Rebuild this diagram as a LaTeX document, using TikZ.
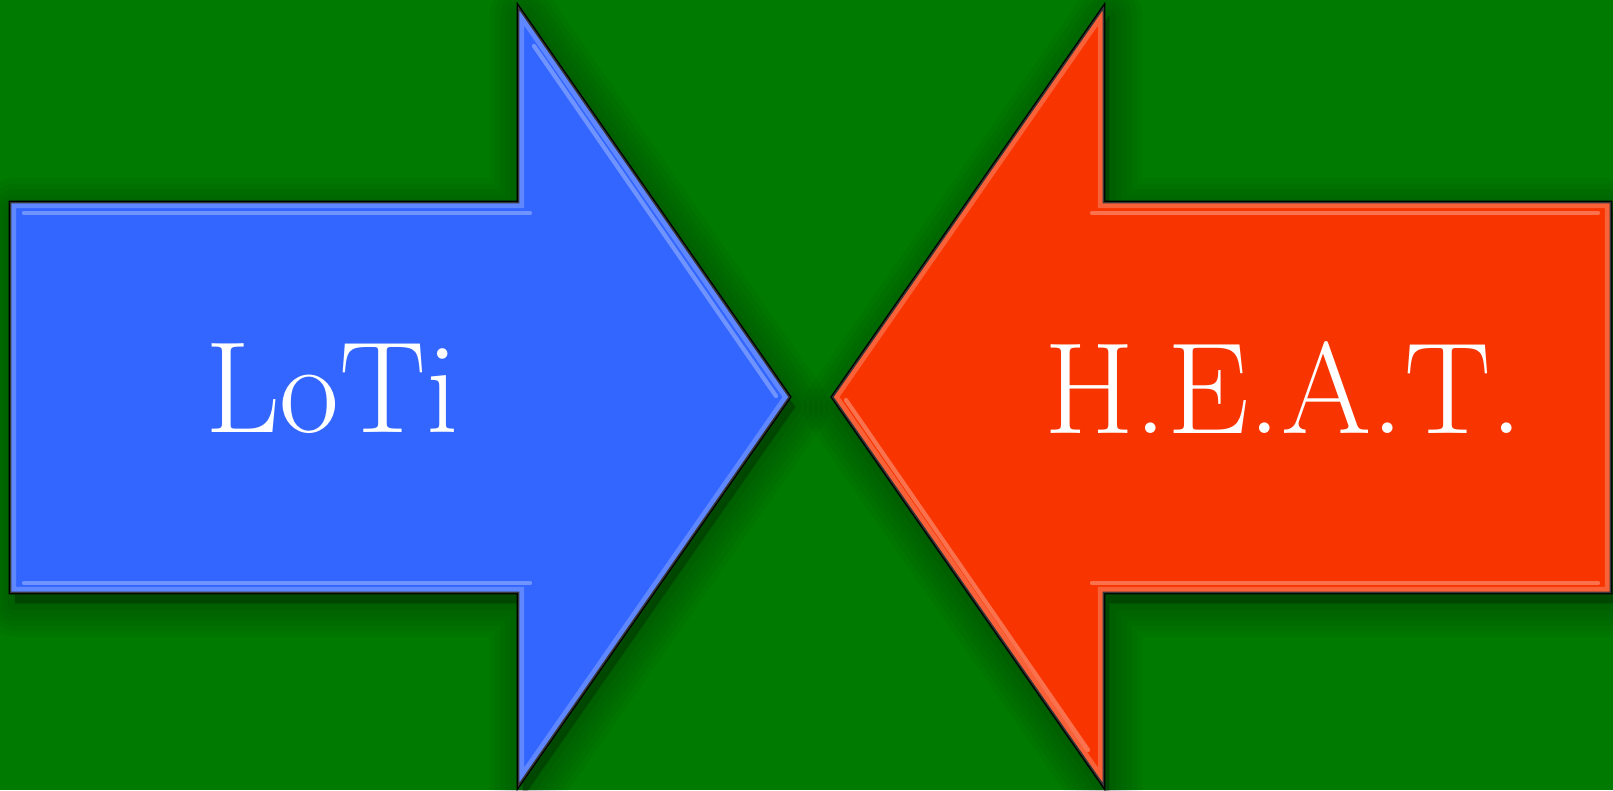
\documentclass[tikz,border=0pt]{standalone}
\usepackage{tikz}
\usetikzlibrary{positioning}
\definecolor{bggreen}{RGB}{0,122,0}
\definecolor{lotiblue}{RGB}{51,102,255}
\definecolor{heatred}{RGB}{248,53,0}
% outlines of the two arrows, in pixel units
\newcommand{\lotipath}{(10,202) -- (518,202) -- (518,6) -- (790,397) -- (518,787) -- (518,593) -- (10,593) -- cycle}
\newcommand{\heatpath}{(832,397) -- (1104,6) -- (1104,202) -- (1611,202) -- (1611,593) -- (1104,593) -- (1104,787) -- cycle}
\tikzset{
	shade layer/.style={fill=black,draw=black,opacity=0.035,line width=#1,line join=round},
	arrow body/.style={fill=#1,draw=black,line width=0.8pt,line join=miter},
	bevel/.style={draw=white,opacity=0.22,line width=3.5pt,line join=miter},
	gloss/.style={draw=white,opacity=0.3,line width=1.2pt,line cap=round},
	arrow label/.style={text=white,font=\fontsize{37}{40}\selectfont,anchor=base}
}
\begin{document}
\begin{tikzpicture}[x=0.1mm,y=-0.1mm]
		\useasboundingbox (0,0) rectangle (1613,790);
		\fill[bggreen] (0,0) rectangle (1613,790);
		% soft shadows
		\foreach \w in {1,4,...,19}{
			\filldraw[shade layer=\w pt,shift={(5,10)}] \lotipath;
			\filldraw[shade layer=\w pt,shift={(5,10)}] \heatpath;
		}
		% arrows
		\filldraw[arrow body=lotiblue] \lotipath;
		\filldraw[arrow body=heatred] \heatpath;
		\begin{scope}
			\clip \lotipath;
			\draw[bevel] \lotipath;
		\end{scope}
		\begin{scope}
			\clip \heatpath;
			\draw[bevel] \heatpath;
		\end{scope}
		\draw[gloss] (24,213) -- (530,213);
		\draw[gloss] (24,583) -- (530,583);
		\draw[gloss] (534,46) -- (776,396);
		\draw[gloss] (1092,213) -- (1598,213);
		\draw[gloss] (1092,583) -- (1598,583);
		\draw[gloss] (846,400) -- (1088,750);
		% labels
		\node[arrow label] (loti) at (332,432) {LoTi};
		\node[arrow label] (heat) at (1284,433) {H.E.A.T.};
	\end{tikzpicture}
\end{document}
